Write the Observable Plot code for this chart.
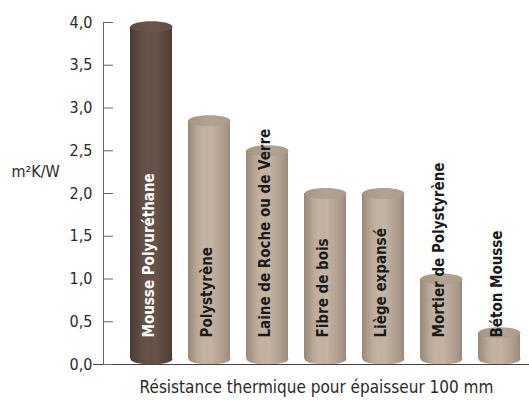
<!DOCTYPE html>
<html><head><meta charset="utf-8">
<script src="https://cdn.jsdelivr.net/npm/d3@7"></script>
<script src="https://cdn.jsdelivr.net/npm/@observablehq/plot@0.6"></script>
<style>
body{margin:0;background:#fff;}
#chart svg{display:block;}
</style></head>
<body><div id="chart"></div>
<script>
const materials = ["Mousse Polyuréthane", "Polystyrène", "Laine de Roche ou de Verre", "Fibre de bois", "Liège expansé", "Mortier de Polystyrène", "Béton Mousse"];
const values = [3.95, 2.85, 2.5, 2.0, 2.0, 1.0, 0.37];
const highlighted = "Mousse Polyuréthane";
const yTicks = [0, 0.5, 1, 1.5, 2, 2.5, 3, 3.5, 4];
const yLabel = "m²K/W";
const caption = "Résistance thermique pour épaisseur 100 mm";

const data = materials.map((m, i) => ({material: m, value: values[i], dark: m === highlighted}));
const fmt = d => d.toFixed(1).replace(".", ",");
const FONT = "'Liberation Sans Narrow', 'DejaVu Sans Condensed', 'Arial Narrow', sans-serif";

function defs() {
  const ns = "http://www.w3.org/2000/svg";
  const d = document.createElementNS(ns, "defs");
  function grad(id, stops) {
    const g = document.createElementNS(ns, "linearGradient");
    g.setAttribute("id", id);
    g.setAttribute("x1", "0"); g.setAttribute("x2", "1");
    g.setAttribute("y1", "0"); g.setAttribute("y2", "0");
    for (const [o, c] of stops) {
      const s = document.createElementNS(ns, "stop");
      s.setAttribute("offset", o); s.setAttribute("stop-color", c);
      g.appendChild(s);
    }
    d.appendChild(g);
  }
  grad("tanBody", [[0, "#988878"], [0.08, "#a49484"], [0.16, "#ae9e8e"], [0.22, "#b8a898"], [0.3, "#bfae9e"], [0.38, "#c5b4a4"], [0.46, "#c1b0a0"], [0.54, "#c6b5a5"], [0.62, "#bead9d"], [0.72, "#b7a696"], [0.82, "#ae9e8e"], [0.92, "#a59585"], [1, "#9a8a7a"]]);
  grad("darkBody", [[0, "#4a3a33"], [0.1, "#53423a"], [0.2, "#5b4940"], [0.3, "#634f46"], [0.4, "#67534a"], [0.5, "#634f46"], [0.6, "#685449"], [0.7, "#604d44"], [0.82, "#5a483f"], [0.92, "#52413a"], [1, "#4a3a33"]]);
  grad("tanTop", [[0, "#a59585"], [0.5, "#b3a393"], [1, "#ab9b8b"]]);
  grad("darkTop", [[0, "#5f4c44"], [0.5, "#6a564d"], [1, "#634f47"]]);
  return d;
}

const RX = 21, RY = 5.5, K = 0.5523;
const ellipse = {
  draw(ctx) {
    ctx.moveTo(-RX, 0);
    ctx.bezierCurveTo(-RX, -RY * K, -RX * K, -RY, 0, -RY);
    ctx.bezierCurveTo(RX * K, -RY, RX, -RY * K, RX, 0);
    ctx.bezierCurveTo(RX, RY * K, RX * K, RY, 0, RY);
    ctx.bezierCurveTo(-RX * K, RY, -RX, RY * K, -RX, 0);
    ctx.closePath();
  }
};

const bodyFill = d => d.dark ? "url(#darkBody)" : "url(#tanBody)";
const topFill = d => d.dark ? "url(#darkTop)" : "url(#tanTop)";

const chart = Plot.plot({
  width: 529,
  height: 400,
  marginLeft: 103,
  marginRight: 0,
  marginTop: 22,
  marginBottom: 36,
  style: {fontFamily: FONT, fontSize: "16px", color: "#222", background: "#fff"},
  x: {type: "band", domain: materials, range: [121, 529], paddingInner: 0.28, paddingOuter: 0.14, axis: null},
  y: {domain: [0, 4], axis: null},
  marks: [
    defs,
    Plot.dot(data, {x: "material", y: () => 0, dy: -5.5, symbol: ellipse, fill: bodyFill, stroke: "none"}),
    Plot.barY(data, {x: "material", y: "value", fill: bodyFill, insetBottom: 5.5}),
    Plot.dot(data, {x: "material", y: "value", symbol: ellipse, fill: topFill, stroke: "none"}),
    Plot.frame({anchor: "left", stroke: "#666"}),
    Plot.ruleY([0], {stroke: "#444", strokeWidth: 1.2, insetLeft: -10}),
    Plot.axisY({ticks: yTicks, tickSize: -10, tickFormat: () => "", stroke: "#666", label: null}),
    Plot.axisY({ticks: yTicks, tickSize: 0, tickPadding: 11, tickFormat: fmt, fill: "#2a2a2a", fontSize: 16, label: null}),
    Plot.text([yLabel], {frameAnchor: "left", dx: -92, dy: -22, textAnchor: "start", fill: "#2a2a2a", fontSize: 16}),
    Plot.text(data, {x: "material", y: () => 0, text: "material", rotate: -90, textAnchor: "start", dy: -27, dx: -2, fontWeight: "bold", fontSize: 15, fill: d => d.dark ? "#ffffff" : "#1a1a1a"}),
    Plot.text([caption], {frameAnchor: "bottom", dy: 28, fill: "#2a2a2a", fontSize: 17})
  ]
});
document.getElementById("chart").appendChild(chart);
</script>
</body></html>
